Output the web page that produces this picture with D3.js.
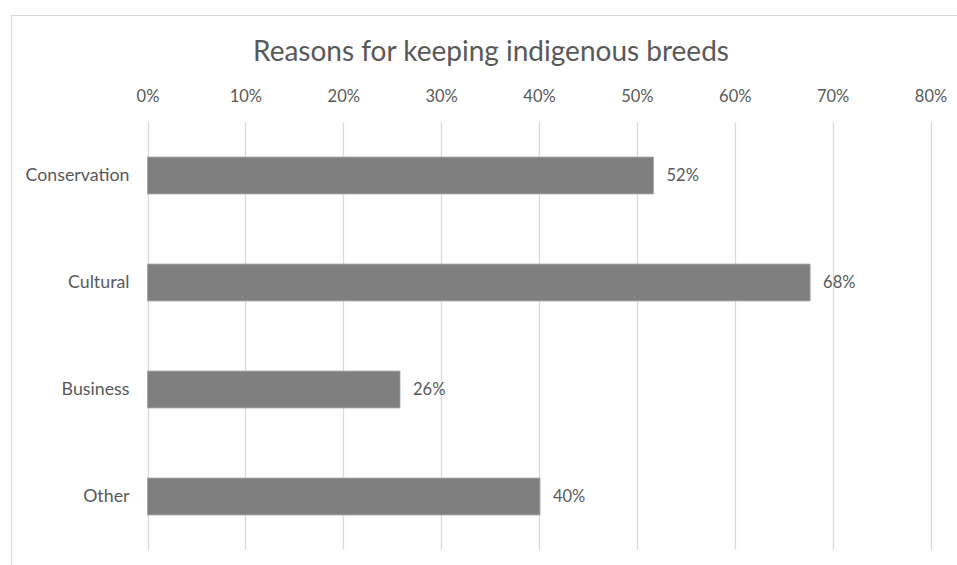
<!DOCTYPE html>
<html>
<head>
<meta charset="utf-8">
<script src="https://cdn.jsdelivr.net/npm/d3@7"></script>
<style>
  html, body { margin: 0; padding: 0; background: #fff; }
  svg { display: block; }
  text { font-family: Lato, "Open Sans", sans-serif; fill: #595959; }
</style>
</head>
<body>
<script>
const title = "Reasons for keeping indigenous breeds";
const categories = ["Conservation", "Cultural", "Business", "Other"];
const values = [0.517, 0.677, 0.258, 0.401];
const tickValues = [0, 0.1, 0.2, 0.3, 0.4, 0.5, 0.6, 0.7, 0.8];

const W = 957, H = 565;
const svg = d3.select("body").append("svg").attr("width", W).attr("height", H);

// chart frame
svg.append("rect").attr("x", 11.5).attr("y", 15.5).attr("width", 1000).attr("height", 1000)
  .attr("fill", "#fff").attr("stroke", "#d9d9d9").attr("stroke-width", 1);

const x = d3.scaleLinear().domain([0, 0.8]).range([147.5, 930.5]);
const y = d3.scaleBand().domain(categories).range([122, 550]).paddingInner(0.655).paddingOuter(0.3275);

// gridlines
svg.append("g").selectAll("line").data(tickValues).join("line")
  .attr("x1", d => Math.round(x(d)) + 0.5).attr("x2", d => Math.round(x(d)) + 0.5)
  .attr("y1", 122).attr("y2", 550)
  .attr("stroke", "#d9d9d9").attr("stroke-width", 1.3);

// top axis labels
const axis = d3.axisTop(x).tickValues(tickValues).tickFormat(d3.format(".0%")).tickSize(0).tickPadding(0);
const ax = svg.append("g").attr("transform", "translate(0,102)").call(axis);
ax.select(".domain").remove();
ax.selectAll("text").style("font-size", "16.5px").attr("fill", "#595959").style("font-family", "Lato, 'Open Sans', sans-serif");

// left axis labels
const yAxis = d3.axisLeft(y).tickSize(0).tickPadding(18);
const ay = svg.append("g").attr("transform", "translate(147.5,0)").call(yAxis);
ay.select(".domain").remove();
ay.selectAll("text").style("font-size", "17.8px").attr("fill", "#595959").style("font-family", "Lato, 'Open Sans', sans-serif");

// bars
svg.append("g").selectAll("rect").data(categories).join("rect")
  .attr("x", x(0)).attr("y", d => y(d))
  .attr("width", (d, i) => x(values[i]) - x(0))
  .attr("height", y.bandwidth())
  .attr("fill", "#7f7f7f").attr("stroke", "#a6a6a6").attr("stroke-width", 0.8);

// value labels
svg.append("g").selectAll("text").data(categories).join("text")
  .attr("x", (d, i) => x(values[i]) + 13)
  .attr("y", d => y(d) + y.bandwidth() / 2)
  .attr("dy", "0.35em")
  .style("font-size", "16.5px")
  .text((d, i) => d3.format(".0%")(values[i]));

// title
svg.append("text").attr("x", 491).attr("y", 61).attr("text-anchor", "middle")
  .style("font-size", "28px").text(title);
</script>
</body>
</html>
